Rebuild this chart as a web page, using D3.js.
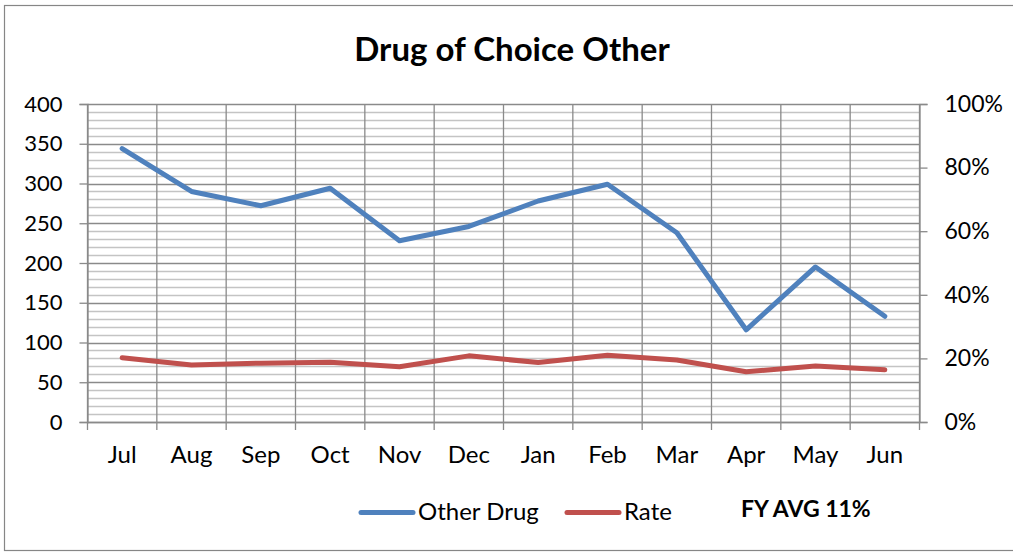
<!DOCTYPE html>
<html>
<head>
<meta charset="utf-8">
<script src="https://cdn.jsdelivr.net/npm/d3@7"></script>
<style>
  html, body { margin: 0; padding: 0; background: #fff; }
  svg { display: block; }
  text { font-family: Lato, "Open Sans", sans-serif; fill: #000; }
</style>
</head>
<body>
<svg id="chart" width="1013" height="553"></svg>
<script>
// Monthly counts for "Other" drug of choice and the matching rate
const months = ["Jul", "Aug", "Sep", "Oct", "Nov", "Dec", "Jan", "Feb", "Mar", "Apr", "May", "Jun"];
const otherDrug = [344, 290, 272, 294, 228, 246, 278, 299, 238, 116, 195, 133];
const rate = [0.202, 0.179, 0.185, 0.188, 0.174, 0.208, 0.187, 0.210, 0.195, 0.158, 0.176, 0.164];
const leftTicks = [0, 50, 100, 150, 200, 250, 300, 350, 400];
const rightTicks = [0, 0.2, 0.4, 0.6, 0.8, 1.0];
const minorStep = 10;

const svg = d3.select("#chart");
const plot = { left: 87.5, right: 919.5, top: 104, bottom: 422 };

// Outer chart frame
svg.append("rect")
  .attr("x", 4.5).attr("y", 5.5)
  .attr("width", 1010).attr("height", 545)
  .attr("fill", "#fff").attr("stroke", "#868686").attr("stroke-width", 1.2);

const x = d3.scaleBand().domain(months).range([plot.left, plot.right]).paddingInner(0).paddingOuter(0);
const y = d3.scaleLinear().domain([0, 400]).range([plot.bottom, plot.top]);
const y2 = d3.scaleLinear().domain([0, 1]).range([plot.bottom, plot.top]);

// Minor horizontal gridlines
const minor = d3.range(0, 401, minorStep).filter(v => v % 50 !== 0);
svg.append("g").selectAll("line").data(minor).join("line")
  .attr("x1", plot.left).attr("x2", plot.right)
  .attr("y1", d => Math.round(y(d)) + 0.5).attr("y2", d => Math.round(y(d)) + 0.5)
  .attr("stroke", "#c4c4c4").attr("stroke-width", 1.4);

// Major horizontal gridlines
svg.append("g").selectAll("line").data(leftTicks).join("line")
  .attr("x1", plot.left).attr("x2", plot.right)
  .attr("y1", d => Math.round(y(d)) + 0.5).attr("y2", d => Math.round(y(d)) + 0.5)
  .attr("stroke", "#8a8a8a").attr("stroke-width", 1.3);

// Vertical gridlines at category boundaries
const bounds = months.map(m => x(m)).concat([plot.right]);
svg.append("g").selectAll("line").data(bounds).join("line")
  .attr("x1", d => d).attr("x2", d => d)
  .attr("y1", plot.top).attr("y2", plot.bottom + 8)
  .attr("stroke", "#8a8a8a").attr("stroke-width", 1.3);

// Left axis
const leftAxis = svg.append("g").attr("transform", `translate(${plot.left},0)`)
  .call(d3.axisLeft(y).tickValues(leftTicks).tickSize(8).tickPadding(17).tickFormat(d3.format("d")));
leftAxis.select(".domain").attr("stroke", "#8a8a8a").attr("stroke-width", 1.3);
leftAxis.selectAll(".tick line").attr("stroke", "#8a8a8a").attr("stroke-width", 1.3);
leftAxis.selectAll(".tick text").attr("font-size", 22).attr("font-family", "Lato").attr("fill", "#000");

// Right axis
const rightAxis = svg.append("g").attr("transform", `translate(${plot.right},0)`)
  .call(d3.axisRight(y2).tickValues(rightTicks).tickSize(8).tickPadding(17).tickFormat(d3.format(".0%")));
rightAxis.select(".domain").attr("stroke", "#8a8a8a").attr("stroke-width", 1.3);
rightAxis.selectAll(".tick line").attr("stroke", "#8a8a8a").attr("stroke-width", 1.3);
rightAxis.selectAll(".tick text").attr("font-size", 23).attr("font-family", "Lato").attr("fill", "#000");

// Bottom axis line and category labels
svg.append("line")
  .attr("x1", plot.left).attr("x2", plot.right)
  .attr("y1", plot.bottom + 0.5).attr("y2", plot.bottom + 0.5)
  .attr("stroke", "#8a8a8a").attr("stroke-width", 1.3);
svg.append("g").selectAll("text").data(months).join("text")
  .attr("x", d => x(d) + x.bandwidth() / 2)
  .attr("y", 463)
  .attr("text-anchor", "middle")
  .attr("font-size", 24)
  .text(d => d);

const cx = (d, i) => x(months[i]) + x.bandwidth() / 2;

// Rate series (right axis)
svg.append("path")
  .datum(rate)
  .attr("fill", "none").attr("stroke", "#C0504D").attr("stroke-width", 5)
  .attr("stroke-linejoin", "round").attr("stroke-linecap", "round")
  .attr("d", d3.line().x(cx).y(d => y2(d)));

// Other Drug series (left axis)
svg.append("path")
  .datum(otherDrug)
  .attr("fill", "none").attr("stroke", "#4F81BD").attr("stroke-width", 5)
  .attr("stroke-linejoin", "round").attr("stroke-linecap", "round")
  .attr("d", d3.line().x(cx).y(d => y(d)));

// Title
svg.append("text")
  .attr("x", 512).attr("y", 61)
  .attr("text-anchor", "middle")
  .attr("font-size", 33).attr("font-weight", "bold")
  .text("Drug of Choice Other");

// Legend
const legend = svg.append("g");
const legendItems = [
  { name: "Other Drug", color: "#4F81BD", x: 361 },
  { name: "Rate", color: "#C0504D", x: 567 }
];
legendItems.forEach(it => {
  legend.append("line")
    .attr("x1", it.x).attr("x2", it.x + 52)
    .attr("y1", 512.5).attr("y2", 512.5)
    .attr("stroke", it.color).attr("stroke-width", 5).attr("stroke-linecap", "round");
  legend.append("text")
    .attr("x", it.x + 57).attr("y", 520)
    .attr("font-size", 24)
    .text(it.name);
});
legend.append("text")
  .attr("x", 741).attr("y", 517)
  .attr("font-size", 23).attr("font-weight", "bold")
  .text("FY AVG 11%");
</script>
</body>
</html>
